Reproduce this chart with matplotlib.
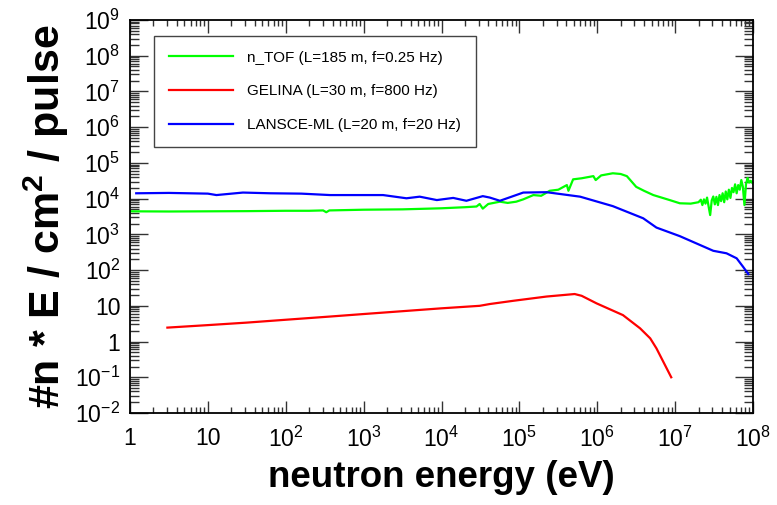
import numpy as np
import matplotlib
matplotlib.use("Agg")
import matplotlib.pyplot as plt
from matplotlib.ticker import FixedLocator, FixedFormatter, LogLocator, NullFormatter

plt.rcParams["font.family"] = ["Liberation Sans", "DejaVu Sans"]
plt.rcParams["mathtext.fontset"] = "custom"
plt.rcParams["mathtext.rm"] = "Liberation Sans"
plt.rcParams["mathtext.it"] = "Liberation Sans:italic"
plt.rcParams["mathtext.bf"] = "Liberation Sans:bold"

# log10(E / eV) and log10(flux)
ntof_logE = [0.0, 0.5, 1.0, 1.5, 2.0, 2.3, 2.48, 2.52, 2.56, 3.0, 3.5, 4.0, 4.3,
             4.45, 4.49, 4.53, 4.6, 4.75, 4.85, 4.96, 5.05, 5.18, 5.28, 5.39,
             5.5, 5.61, 5.63, 5.69, 5.8, 5.95, 5.98, 6.05, 6.2, 6.3, 6.38,
             6.5, 6.6, 6.72, 6.93, 7.06, 7.2, 7.30, 7.33, 7.35, 7.37, 7.39,
             7.41, 7.43, 7.45, 7.47, 7.49, 7.51, 7.53, 7.55, 7.57, 7.59, 7.61,
             7.63, 7.65, 7.67, 7.69, 7.71, 7.73, 7.75, 7.77, 7.79, 7.81, 7.83,
             7.85, 7.87, 7.89, 7.91, 7.93, 7.95, 7.97, 8.0]
ntof_logflux = [3.645, 3.64, 3.645, 3.65, 3.66, 3.66, 3.67, 3.62, 3.67, 3.69,
                3.70, 3.73, 3.76, 3.78, 3.85, 3.72, 3.85, 3.915, 3.88, 3.915,
                3.98, 4.10, 4.08, 4.22, 4.25, 4.38, 4.22, 4.54, 4.57, 4.63,
                4.52, 4.65, 4.71, 4.69, 4.63, 4.33, 4.22, 4.10, 3.96, 3.87,
                3.86, 3.90, 3.97, 3.82, 3.98, 3.86, 4.03, 3.78, 3.54, 3.95,
                4.06, 3.84, 4.05, 3.82, 4.10, 3.93, 4.15, 3.90, 4.20, 3.98,
                4.25, 4.02, 4.30, 4.18, 4.40, 4.15, 4.38, 4.25, 4.52, 4.33,
                3.82, 4.40, 4.58, 4.45, 4.50, 4.42]

gelina_logE = [0.48, 1.0, 1.5, 2.0, 2.57, 3.0, 3.5, 4.0, 4.49, 4.62, 4.92,
               5.35, 5.71, 5.80, 5.99, 6.33, 6.55, 6.68, 6.76, 6.95]
gelina_logflux = [0.39, 0.46, 0.53, 0.61, 0.70, 0.77, 0.85, 0.93, 1.00, 1.05,
                  1.14, 1.26, 1.33, 1.28, 1.07, 0.74, 0.37, 0.09, -0.19, -1.0]

lansce_logE = [0.08, 0.5, 1.0, 1.11, 1.45, 1.8, 2.2, 2.57, 3.0, 3.25, 3.55,
               3.72, 3.94, 4.15, 4.32, 4.53, 4.62, 4.75, 5.05, 5.35, 5.78,
               6.20, 6.59, 6.76, 7.06, 7.49, 7.66, 7.79, 7.87, 7.94]
lansce_logflux = [4.15, 4.16, 4.14, 4.10, 4.17, 4.15, 4.14, 4.10, 4.10, 4.10,
                  4.01, 4.055, 3.96, 4.02, 3.94, 4.07, 4.03, 3.94, 4.17, 4.18,
                  4.055, 3.79, 3.45, 3.19, 2.95, 2.54, 2.47, 2.33, 2.10, 1.89]

labels = ["n_TOF (L=185 m, f=0.25 Hz)",
          "GELINA (L=30 m, f=800 Hz)",
          "LANSCE-ML (L=20 m, f=20 Hz)"]
colors = ["#00ff00", "#ff0000", "#0000ff"]

x_ticks = [10.0 ** k for k in range(0, 9)]
x_ticklabels = ["1", "10"] + [f"$10^{{{k}}}$" for k in range(2, 9)]
y_ticks = [10.0 ** k for k in range(-2, 10)]
y_ticklabels = [f"$10^{{{k}}}$" if k not in (0, 1) else str(10 ** k)
                for k in range(-2, 10)]

fig = plt.figure(figsize=(7.77, 5.05), dpi=100)
ax = fig.add_axes([130 / 777, 1 - 413 / 505, 623 / 777, 393 / 505])

series = [(ntof_logE, ntof_logflux), (gelina_logE, gelina_logflux),
          (lansce_logE, lansce_logflux)]
for (lx, ly), c, lab in zip(series, colors, labels):
    ax.plot(10.0 ** np.array(lx), 10.0 ** np.array(ly), color=c, lw=1.6, label=lab)

ax.set_xscale("log")
ax.set_yscale("log")
ax.set_xlim(1, 1e8)
ax.set_ylim(1e-2, 1e9)

ax.xaxis.set_major_locator(FixedLocator(x_ticks))
ax.xaxis.set_major_formatter(FixedFormatter(x_ticklabels))
ax.yaxis.set_major_locator(FixedLocator(y_ticks))
ax.yaxis.set_major_formatter(FixedFormatter(y_ticklabels))
ax.xaxis.set_minor_locator(LogLocator(base=10, subs=np.arange(2, 10), numticks=20))
ax.yaxis.set_minor_locator(LogLocator(base=10, subs=np.arange(2, 10), numticks=30))
ax.xaxis.set_minor_formatter(NullFormatter())
ax.yaxis.set_minor_formatter(NullFormatter())

ax.tick_params(which="both", direction="in", top=True, right=True,
               labelsize=16.5, width=1.0, color="#333333")
ax.tick_params(axis="x", which="major", length=9, pad=10)
ax.tick_params(axis="x", which="minor", length=4)
ax.tick_params(axis="y", which="major", length=13, pad=7)
ax.tick_params(axis="y", which="minor", length=6.5)
for s in ax.spines.values():
    s.set_linewidth(1.3)

ax.set_xlabel("neutron energy (eV)", fontsize=26.5, fontweight="bold", labelpad=6)
ax.set_ylabel(r"#n * E / cm$^\mathbf{2}$ / pulse", fontsize=31, fontweight="bold",
              labelpad=3)

leg = ax.legend(loc="upper left", bbox_to_anchor=(24 / 623, 377 / 393),
                borderaxespad=0, fontsize=11, handlelength=4.25, handletextpad=0.9,
                labelspacing=1.3, borderpad=0.95, fancybox=False, framealpha=1)
leg.get_frame().set_edgecolor("#444444")
leg.get_frame().set_linewidth(1.0)

fig.savefig("out.png", dpi=100)
